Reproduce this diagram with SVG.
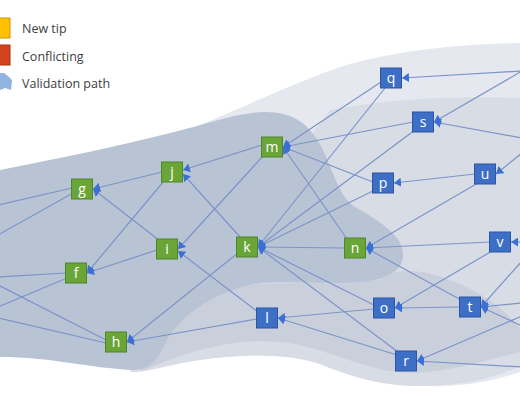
<svg xmlns="http://www.w3.org/2000/svg" width="520" height="400" viewBox="0 0 520 400">
<defs>
<marker id="ah" markerUnits="userSpaceOnUse" markerWidth="8" markerHeight="9" refX="7" refY="4.5" orient="auto">
<path d="M0,0 L7,4.5 L0,9 Z" fill="#3b6fd4"/>
</marker>
<style>
.e{stroke:#7c94c9;stroke-width:1.2;fill:none;marker-end:url(#ah)}
.x{stroke:#7c94c9;stroke-width:1.2;fill:none}
.gn rect{fill:#6aa538;stroke:#4f862a;stroke-width:1}
.bl rect{fill:#3e6fc7;stroke:#2d569f;stroke-width:1}
.lb{font-family:"Open Sans","DejaVu Sans",sans-serif;font-size:14px;fill:#ffffff;text-anchor:middle}
.lg{font-family:"Open Sans","DejaVu Sans",sans-serif;font-size:12.5px;fill:#404040}
</style>
</defs>
<rect width="520" height="400" fill="#ffffff"/>
<g id="background">
<path d="M200,125 C260,100 300,80 350,64 C400,50 460,44 520,43 L520,372 C490,382 460,387 420,386 C380,386 350,376 320,364 C290,354 250,353 200,360 C170,364 150,372 130,372 Z" fill="#e5e8ee"/>
<path d="M330,110 C380,100 450,95 520,98 L520,366 C490,380 460,386 420,386 C380,386 350,376 320,364 C290,354 250,353 200,360 C170,364 150,372 130,372 Z" fill="#d7dce5"/>
<path d="M140,372 C165,320 200,292 260,284 L380,280 C395,268 420,268 450,280 C480,292 500,305 520,328 L520,352 C480,362 450,372 410,373 C370,372 335,352 295,344 C250,336 200,345 140,372 Z" fill="#c9d0dc"/>
<path d="M0,170 C60,158 120,146 170,133 C210,123 240,112 265,112 C295,112 310,125 322,148 C335,175 338,195 355,207 C378,220 402,235 403,253 C404,272 385,280 360,282 C320,285 285,280 255,284 C215,292 185,312 168,338 C158,358 152,370 132,370 C90,368 50,357 0,357 Z" fill="#b8c3d4"/>
</g>
<g id="legend">
<rect x="-2" y="18" width="12" height="20" fill="#ffc000" stroke="#c99700"/>
<rect x="-2" y="45" width="12" height="20" fill="#d4431d" stroke="#a8330f"/>
<path d="M0,73 L4,73 L9,77 L12,80 L11,90 L5,88 L0,90 Z" fill="#8fb4df"/>
<text class="lg" x="22" y="33">New tip</text>
<text class="lg" x="22" y="61">Conflicting</text>
<text class="lg" x="22" y="88">Validation path</text>
</g>
<g id="connectors">
<line class="e" x1="522" y1="71" x2="402" y2="78"/>
<line class="e" x1="522" y1="71" x2="434" y2="122"/>
<line class="e" x1="522" y1="138" x2="434" y2="122"/>
<line class="e" x1="522" y1="153" x2="496" y2="174"/>
<line class="e" x1="522" y1="242" x2="511" y2="242"/>
<line class="e" x1="522" y1="261" x2="481" y2="307"/>
<line class="e" x1="522" y1="303" x2="481" y2="307"/>
<line class="e" x1="522" y1="326" x2="481" y2="307"/>
<line class="e" x1="522" y1="316" x2="417" y2="361"/>
<line class="e" x1="522" y1="367" x2="417" y2="361"/>
<line class="e" x1="381" y1="82" x2="283" y2="147"/>
<line class="e" x1="385" y1="88" x2="258" y2="247"/>
<line class="e" x1="413" y1="122" x2="283" y2="147"/>
<line class="e" x1="415" y1="130" x2="258" y2="247"/>
<line class="e" x1="373" y1="182" x2="283" y2="147"/>
<line class="e" x1="375" y1="190" x2="258" y2="247"/>
<line class="e" x1="347" y1="239" x2="283" y2="147"/>
<line class="e" x1="475" y1="174" x2="394" y2="183"/>
<line class="e" x1="478" y1="183" x2="366" y2="248"/>
<line class="e" x1="490" y1="242" x2="366" y2="248"/>
<line class="e" x1="492" y1="251" x2="395" y2="308"/>
<line class="e" x1="460" y1="307" x2="395" y2="308"/>
<line class="e" x1="461" y1="300" x2="366" y2="248"/>
<line class="e" x1="345" y1="248" x2="258" y2="247"/>
<line class="e" x1="374" y1="305" x2="258" y2="247"/>
<line class="e" x1="374" y1="309" x2="278" y2="318"/>
<line class="e" x1="397" y1="355" x2="278" y2="318"/>
<line class="e" x1="398" y1="352" x2="258" y2="247"/>
<line class="e" x1="262" y1="145" x2="183" y2="170"/>
<line class="e" x1="264" y1="155" x2="178" y2="249"/>
<line class="e" x1="241" y1="238" x2="183" y2="174"/>
<line class="e" x1="238" y1="253" x2="127" y2="342"/>
<line class="e" x1="258" y1="312" x2="178" y2="251"/>
<line class="e" x1="257" y1="319" x2="127" y2="342"/>
<line class="e" x1="157" y1="250" x2="87" y2="273"/>
<line class="e" x1="160" y1="241" x2="93" y2="189"/>
<line class="e" x1="162" y1="172" x2="93" y2="189"/>
<line class="e" x1="164" y1="181" x2="87" y2="273"/>
<line class="x" x1="72" y1="188" x2="-2" y2="205"/>
<line class="x" x1="73" y1="193" x2="-2" y2="235"/>
<line class="x" x1="66" y1="273" x2="-2" y2="277"/>
<line class="x" x1="67" y1="278" x2="-2" y2="307"/>
<line class="x" x1="106" y1="340" x2="-2" y2="285"/>
<line class="x" x1="106" y1="343" x2="-2" y2="318"/>
</g>
<g id="node-q" class="bl"><rect x="380.5" y="68" width="21" height="20"/><text class="lb" x="391" y="83">q</text></g>
<g id="node-s" class="bl"><rect x="412.5" y="112" width="21" height="20"/><text class="lb" x="423" y="127">s</text></g>
<g id="node-p" class="bl"><rect x="372.5" y="173" width="21" height="20"/><text class="lb" x="383" y="188">p</text></g>
<g id="node-u" class="bl"><rect x="474.5" y="164" width="21" height="20"/><text class="lb" x="485" y="179">u</text></g>
<g id="node-v" class="bl"><rect x="489.5" y="232" width="21" height="20"/><text class="lb" x="500" y="247">v</text></g>
<g id="node-o" class="bl"><rect x="373.5" y="298" width="21" height="20"/><text class="lb" x="384" y="313">o</text></g>
<g id="node-t" class="bl"><rect x="459.5" y="297" width="21" height="20"/><text class="lb" x="470" y="312">t</text></g>
<g id="node-l" class="bl"><rect x="256.5" y="308" width="21" height="20"/><text class="lb" x="267" y="323">l</text></g>
<g id="node-r" class="bl"><rect x="395.5" y="351" width="21" height="20"/><text class="lb" x="406" y="366">r</text></g>
<g id="node-m" class="gn"><rect x="261.5" y="137" width="21" height="20"/><text class="lb" x="272" y="152">m</text></g>
<g id="node-j" class="gn"><rect x="161.5" y="162" width="21" height="20"/><text class="lb" x="172" y="177">j</text></g>
<g id="node-g" class="gn"><rect x="71.5" y="179" width="21" height="20"/><text class="lb" x="82" y="194">g</text></g>
<g id="node-i" class="gn"><rect x="156.5" y="239" width="21" height="20"/><text class="lb" x="167" y="254">i</text></g>
<g id="node-k" class="gn"><rect x="236.5" y="237" width="21" height="20"/><text class="lb" x="247" y="252">k</text></g>
<g id="node-n" class="gn"><rect x="344.5" y="238" width="21" height="20"/><text class="lb" x="355" y="253">n</text></g>
<g id="node-f" class="gn"><rect x="65.5" y="263" width="21" height="20"/><text class="lb" x="76" y="278">f</text></g>
<g id="node-h" class="gn"><rect x="105.5" y="332" width="21" height="20"/><text class="lb" x="116" y="347">h</text></g>
</svg>
